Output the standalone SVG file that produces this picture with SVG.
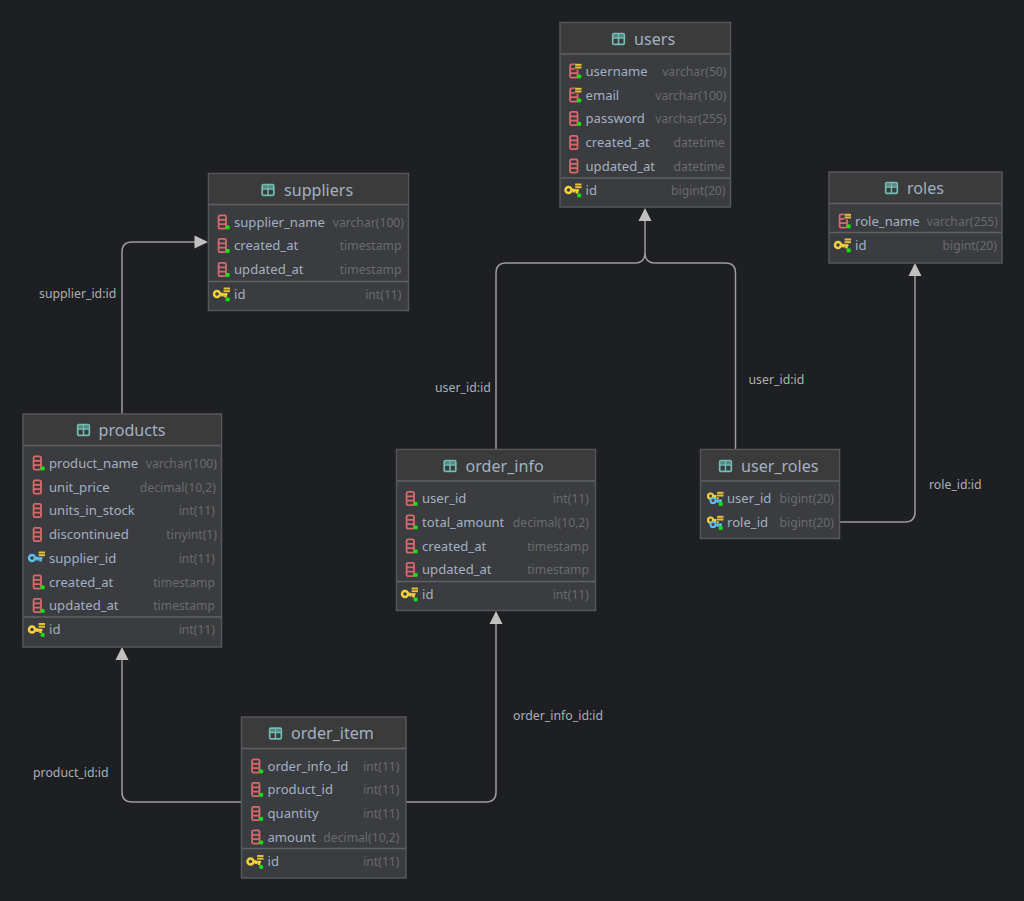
<svg xmlns="http://www.w3.org/2000/svg" width="1024" height="901" viewBox="0 0 1024 901">
<style>
text{font-family:"Noto Sans","Open Sans","Liberation Sans",sans-serif}
.b{fill:#3a3c3f;stroke:#55575a;stroke-width:1.5}
.h{fill:#3b3b3b}
.s{stroke:#5f6163;stroke-width:1.5;fill:none}
.t{font-size:16.100px;fill:#a3b1c2}
.n{font-size:13.100px;fill:#a3b1c2}
.y{font-size:12.200px;fill:#696b6e;text-anchor:end}
.l{font-size:12.300px;fill:#adb0b3}
.c{fill:none;stroke:#9c9c9c;stroke-width:1.5}
.a{fill:#c0c0c0}
</style>
<defs>
<g id="tbl"><rect x="0.7" y="-5.3" width="11.6" height="10.6" rx="1" fill="none" stroke="#72bdb5" stroke-width="1.7"/><path d="M1 -1H12M6.5 -5V5" stroke="#72bdb5" stroke-width="1.5"/><rect x="1.500" y="-4.500" width="4.300" height="3" fill="#72bdb5" opacity=".6"/><rect x="7.200" y="-4.500" width="4.300" height="3" fill="#72bdb5" opacity=".6"/></g>
<g id="col" fill="none" stroke="#d9686c" stroke-width="1.800"><rect x="-15.400" y="-6.600" width="7.400" height="13.200" rx="1.400"/><path d="M-15.400 -2.200H-8M-15.400 2.200H-8"/></g>
<g id="st"><rect x="-11" y="-7.500" width="7" height="6" fill="#3a3c3f"/><rect x="-10.400" y="-7.200" width="6.400" height="2" fill="#e3be3c"/><rect x="-10.400" y="-4.500" width="6.400" height="2" fill="#e3be3c"/></g>
<g id="idx"><use href="#col"/><use href="#st"/></g>
<g id="ky" fill="none" stroke="#f5d13b" stroke-width="2.500"><circle cx="-17" cy="0" r="3"/><path d="M-14.500 0H-6.500M-8.500 0V3.500M-11.500 0V2.500"/></g>
<g id="kb" fill="none" stroke="#5cbdf0" stroke-width="2.500"><circle cx="-17" cy="0" r="3"/><path d="M-14.500 0H-6.500M-8.500 0V3.500M-11.500 0V2.500"/></g>
<g id="pk"><use href="#ky"/><g transform="translate(0,0.700)"><use href="#st"/></g></g>
<g id="fk"><use href="#kb"/><g transform="translate(0,0.700)"><use href="#st"/></g></g>
<g id="pf"><g transform="translate(-2,-2.500) scale(.85)"><use href="#ky"/></g><g transform="translate(0.500,2) scale(.85)"><use href="#kb"/></g><g transform="translate(0.500,0.500)"><use href="#st"/></g></g>
<circle id="d" cx="-6.300" cy="5.400" r="2.200" fill="#12e012"/>
</defs>
<rect width="1024" height="901" fill="#1e1f22"/>
<g id="connectors">
<path class="c" d="M122 414V252Q122 242 132 242H195"/>
<polygon class="a" points="208,242 194.500,235.500 194.500,248.500"/>
<path class="c" d="M496 449V273Q496 263 506 263H635Q645 263 645 253V220"/>
<path class="c" d="M735.500 449V273Q735.500 263 725.500 263H655Q645 263 645 253"/>
<polygon class="a" points="645,208 638.500,221 651.500,221"/>
<path class="c" d="M839.500 522H905Q915 522 915 512V275"/>
<polygon class="a" points="915,263 908.500,276 921.500,276"/>
<path class="c" d="M241 802H132Q122 802 122 792V659"/>
<polygon class="a" points="122,647 115.500,660 128.500,660"/>
<path class="c" d="M406 802H486Q496 802 496 792V623"/>
<polygon class="a" points="496,611 489.500,624 502.500,624"/>
<text class="l" x="39" y="298">supplier_id:id</text>
<text class="l" x="435" y="392">user_id:id</text>
<text class="l" x="748.500" y="384">user_id:id</text>
<text class="l" x="929" y="489">role_id:id</text>
<text class="l" x="513" y="720">order_info_id:id</text>
<text class="l" x="33" y="777">product_id:id</text>
</g>
<g id="users">
<rect class="b" x="560" y="22.500" width="170.500" height="184.500"/><rect class="h" x="561" y="23.500" width="168.500" height="30"/><path class="s" d="M560.500 54H730M560.500 178H730"/>
<use href="#tbl" x="612" y="39"/><text class="t" x="634" y="45">users</text>
<use href="#idx" x="585.500" y="71"/><use href="#d" x="585.500" y="71"/><text class="n" x="585.500" y="76">username</text><text class="y" x="726.500" y="76">varchar(50)</text>
<use href="#idx" x="585.500" y="95"/><use href="#d" x="585.500" y="95"/><text class="n" x="585.500" y="100">email</text><text class="y" x="726.500" y="100">varchar(100)</text>
<use href="#col" x="585.500" y="118.500"/><use href="#d" x="585.500" y="118.500"/><text class="n" x="585.500" y="123">password</text><text class="y" x="726.500" y="123">varchar(255)</text>
<use href="#col" x="585.500" y="142.500"/><text class="n" x="585.500" y="147">created_at</text><text class="y" x="725" y="147">datetime</text>
<use href="#col" x="585.500" y="166"/><text class="n" x="585.500" y="171">updated_at</text><text class="y" x="725" y="171">datetime</text>
<use href="#pk" x="585.500" y="190"/><use href="#d" x="585.500" y="190"/><text class="n" x="585.500" y="195">id</text><text class="y" x="725.500" y="195">bigint(20)</text>
</g>
<g id="suppliers">
<rect class="b" x="208.500" y="173.500" width="200" height="137"/><rect class="h" x="209.500" y="174.500" width="198" height="29.500"/><path class="s" d="M209 204.500H408M209 281.500H408"/>
<use href="#tbl" x="261.500" y="190"/><text class="t" x="284" y="196">suppliers</text>
<use href="#col" x="234" y="222"/><use href="#d" x="234" y="222"/><text class="n" x="234" y="227">supplier_name</text><text class="y" x="404" y="227">varchar(100)</text>
<use href="#col" x="234" y="245.500"/><use href="#d" x="234" y="245.500"/><text class="n" x="234" y="250">created_at</text><text class="y" x="401.500" y="250">timestamp</text>
<use href="#col" x="234" y="269.500"/><use href="#d" x="234" y="269.500"/><text class="n" x="234" y="274">updated_at</text><text class="y" x="401.500" y="274">timestamp</text>
<use href="#pk" x="234" y="294"/><use href="#d" x="234" y="294"/><text class="n" x="234" y="299">id</text><text class="y" x="401.500" y="299">int(11)</text>
</g>
<g id="roles">
<rect class="b" x="829" y="172" width="173" height="91"/><rect class="h" x="830" y="173" width="171" height="30"/><path class="s" d="M829.500 203.500H1001.500M829.500 232.500H1001.500"/>
<use href="#tbl" x="885" y="188"/><text class="t" x="907" y="194">roles</text>
<use href="#idx" x="855" y="221"/><use href="#d" x="855" y="221"/><text class="n" x="855" y="226">role_name</text><text class="y" x="998" y="226">varchar(255)</text>
<use href="#pk" x="855" y="245"/><use href="#d" x="855" y="245"/><text class="n" x="855" y="250">id</text><text class="y" x="997" y="250">bigint(20)</text>
</g>
<g id="products">
<rect class="b" x="23" y="414" width="198.500" height="233"/><rect class="h" x="24" y="415" width="196.500" height="30"/><path class="s" d="M23.500 445.500H221M23.500 617H221"/>
<use href="#tbl" x="77" y="430"/><text class="t" x="98.500" y="436">products</text>
<use href="#col" x="49" y="463"/><use href="#d" x="49" y="463"/><text class="n" x="49" y="468">product_name</text><text class="y" x="217" y="468">varchar(100)</text>
<use href="#col" x="49" y="487"/><text class="n" x="49" y="492">unit_price</text><text class="y" x="216" y="492">decimal(10,2)</text>
<use href="#col" x="49" y="510.500"/><text class="n" x="49" y="515">units_in_stock</text><text class="y" x="215" y="515">int(11)</text>
<use href="#col" x="49" y="534.500"/><text class="n" x="49" y="539">discontinued</text><text class="y" x="217" y="539">tinyint(1)</text>
<use href="#fk" x="49" y="558"/><text class="n" x="49" y="563">supplier_id</text><text class="y" x="215" y="563">int(11)</text>
<use href="#col" x="49" y="582"/><use href="#d" x="49" y="582"/><text class="n" x="49" y="587">created_at</text><text class="y" x="215" y="587">timestamp</text>
<use href="#col" x="49" y="605.500"/><use href="#d" x="49" y="605.500"/><text class="n" x="49" y="610">updated_at</text><text class="y" x="215" y="610">timestamp</text>
<use href="#pk" x="49" y="629.500"/><use href="#d" x="49" y="629.500"/><text class="n" x="49" y="634">id</text><text class="y" x="215" y="634">int(11)</text>
</g>
<g id="order_info">
<rect class="b" x="396.500" y="449.500" width="199" height="161"/><rect class="h" x="397.500" y="450.500" width="197" height="30"/><path class="s" d="M397 481H595M397 581.500H595"/>
<use href="#tbl" x="443.500" y="466"/><text class="t" x="465.500" y="472">order_info</text>
<use href="#col" x="422" y="498.500"/><use href="#d" x="422" y="498.500"/><text class="n" x="422" y="503">user_id</text><text class="y" x="589" y="503">int(11)</text>
<use href="#col" x="422" y="522"/><use href="#d" x="422" y="522"/><text class="n" x="422" y="527">total_amount</text><text class="y" x="589" y="527">decimal(10,2)</text>
<use href="#col" x="422" y="546"/><use href="#d" x="422" y="546"/><text class="n" x="422" y="551">created_at</text><text class="y" x="589" y="551">timestamp</text>
<use href="#col" x="422" y="569.500"/><use href="#d" x="422" y="569.500"/><text class="n" x="422" y="574">updated_at</text><text class="y" x="589" y="574">timestamp</text>
<use href="#pk" x="422" y="594"/><use href="#d" x="422" y="594"/><text class="n" x="422" y="599">id</text><text class="y" x="589" y="599">int(11)</text>
</g>
<g id="user_roles">
<rect class="b" x="700.500" y="449.500" width="139" height="89"/><rect class="h" x="701.500" y="450.500" width="137" height="30"/><path class="s" d="M701 481H839"/>
<use href="#tbl" x="719" y="466"/><text class="t" x="741" y="472">user_roles</text>
<use href="#pf" x="727" y="498.500"/><use href="#d" x="727" y="498.500"/><text class="n" x="727" y="503">user_id</text><text class="y" x="834" y="503">bigint(20)</text>
<use href="#pf" x="727" y="522.500"/><use href="#d" x="727" y="522.500"/><text class="n" x="727" y="527">role_id</text><text class="y" x="834" y="527">bigint(20)</text>
</g>
<g id="order_item">
<rect class="b" x="241.500" y="717" width="164.500" height="161"/><rect class="h" x="242.500" y="718" width="162.500" height="30"/><path class="s" d="M242 748.500H405.500M242 848.500H405.500"/>
<use href="#tbl" x="269" y="733.500"/><text class="t" x="291" y="739">order_item</text>
<use href="#col" x="267.500" y="766"/><use href="#d" x="267.500" y="766"/><text class="n" x="267.500" y="771">order_info_id</text><text class="y" x="399.500" y="771">int(11)</text>
<use href="#col" x="267.500" y="789.500"/><use href="#d" x="267.500" y="789.500"/><text class="n" x="267.500" y="794">product_id</text><text class="y" x="399.500" y="794">int(11)</text>
<use href="#col" x="267.500" y="813.500"/><use href="#d" x="267.500" y="813.500"/><text class="n" x="267.500" y="818">quantity</text><text class="y" x="399.500" y="818">int(11)</text>
<use href="#col" x="267.500" y="837"/><use href="#d" x="267.500" y="837"/><text class="n" x="267.500" y="842">amount</text><text class="y" x="399.500" y="842">decimal(10,2)</text>
<use href="#pk" x="267.500" y="861.500"/><use href="#d" x="267.500" y="861.500"/><text class="n" x="267.500" y="866">id</text><text class="y" x="399.500" y="866">int(11)</text>
</g>
</svg>
